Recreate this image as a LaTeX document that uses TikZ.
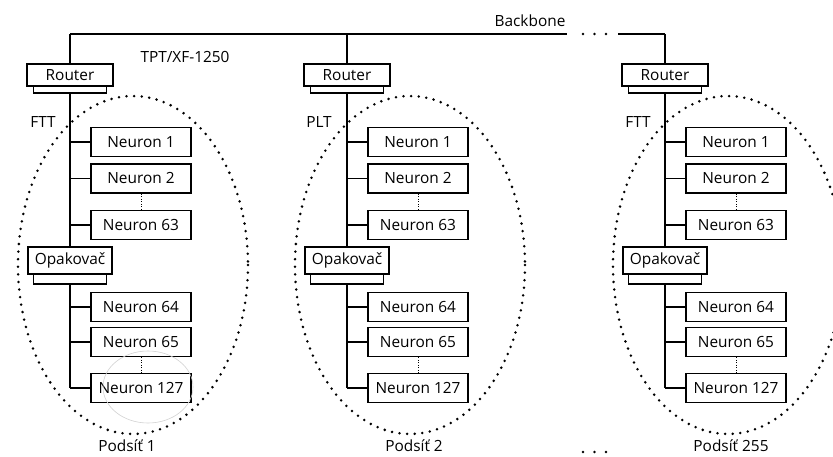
\documentclass[tikz,border=0pt]{standalone}
\usepackage{fontspec}
\setmainfont{Open Sans}
\begin{document}
\begin{tikzpicture}[x=1pt,y=-1pt,
  every node/.style={font=\fontsize{15.4}{17}\selectfont, inner sep=0pt},
  nbox/.style={draw, line width=1.7pt, minimum width=100pt, minimum height=29pt},
  dev/.style={draw, line width=1.4pt, minimum width=86pt, minimum height=22pt},
  plate/.style={draw, line width=1.4pt, minimum width=73pt},
  wire/.style={line width=1.3pt},
  vdots/.style={line width=0.9pt, dash pattern=on 0.9pt off 1.6pt},
  cloud/.style={line width=2.8pt, line cap=round, dash pattern=on 0pt off 7.6pt}]
\useasboundingbox (0,0) rectangle (833,457);
\clip (0,0) rectangle (833,457);
\fill[white] (0,0) rectangle (833,457);

% backbone
\coordinate (bbL) at (70,34);
\coordinate (bbE) at (567,34);
\coordinate (bbS) at (618,34);
\coordinate (bbR) at (665,34);
\draw[wire] (bbL) -- (bbE);
\draw[wire] (bbS) -- (bbR);
\node (bb) at (530,21) {Backbone};
\node (tpt) at (185,57) {TPT/XF-1250};
\foreach \d in {583,594.5,606}{
  \fill (\d,34) circle (1.3pt);
  \fill (\d,452) circle (1.3pt);
}

\foreach \i/\x/\lab/\lx/\pl/\plx in {1/70/FTT/43/Podsíť 1/127, 2/347/PLT/319/Podsíť 2/414, 3/665/FTT/638/Podsíť 255/731}{
  % ellipse
  \draw[cloud] (\x+63,265) ellipse [x radius=115, y radius=169];
  \coordinate (t\i) at (\x,34);
  % router
  \node[plate, minimum height=7pt] (rp\i) at (\x,89.5) {};
  \node[dev, fill=white] (r\i) at (\x,75) {Router};
  % repeater
  \node[plate, minimum height=10pt] (op\i) at (\x,279) {};
  \node[dev, fill=white, minimum width=84pt, minimum height=27pt] (o\i) at (\x,260.5) {Opakovač};
  % neurons
  \node[nbox] (a\i) at (\x+71,142) {Neuron 1};
  \node[nbox] (b\i) at (\x+71,178.5) {Neuron 2};
  \node[nbox] (c\i) at (\x+71,225) {Neuron 63};
  \node[nbox] (d\i) at (\x+71,307) {Neuron 64};
  \node[nbox] (e\i) at (\x+71,342) {Neuron 65};
  \node[nbox] (f\i) at (\x+71,388) {Neuron 127};
  % labels
  \node (lab\i) at (\lx,122) {\lab};
  \node (pl\i) at (\plx,446) {\pl};
  % wires
  \draw[wire] (t\i) -- (r\i.north);
  \draw[wire] (rp\i.south) -- (o\i.north);
  \draw[wire] (op\i.south) -- (f\i.west -| op\i.center);
  \foreach \n in {a,b,c,d,e,f}{
    \draw[wire] (\n\i.west -| r\i.center) -- (\n\i.west);
  }
  \draw[vdots] (b\i.south) -- (c\i.north);
  \draw[vdots] (e\i.south) -- (f\i.north);
}
% faint scan circle
\draw[gray!35, line width=0.6pt] (148,387) ellipse [x radius=45, y radius=36];
\end{tikzpicture}
\end{document}
